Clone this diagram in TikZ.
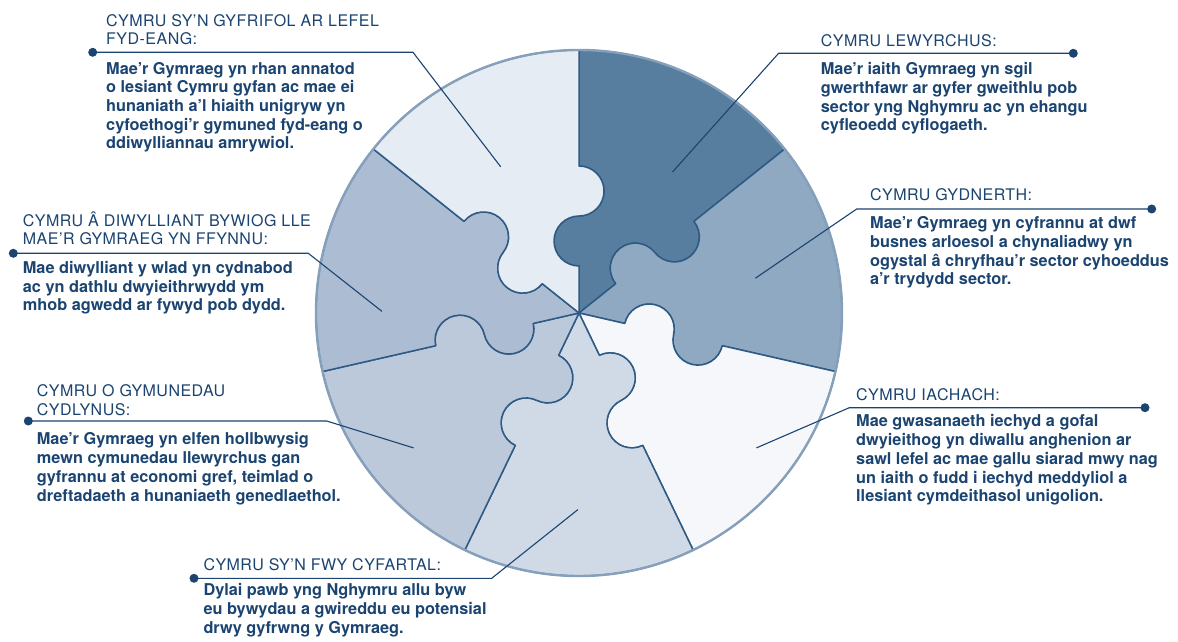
\documentclass[tikz,border=0pt]{standalone}
\usepackage{fontspec}
\setmainfont{TeX Gyre Heros}
\newfontfamily\headfont[LetterSpace=3]{TeX Gyre Heros}
\usepackage{tikz}

\definecolor{navy}{HTML}{1B4471}
\definecolor{edgeblue}{HTML}{2E5A84}
\definecolor{rimblue}{HTML}{86A0BB}
\definecolor{toneA}{HTML}{E6ECF3}
\definecolor{toneB}{HTML}{577E9E}
\definecolor{toneC}{HTML}{8FA9C2}
\definecolor{toneD}{HTML}{ACBDD3}
\definecolor{toneE}{HTML}{F5F7FA}
\definecolor{toneF}{HTML}{D0DAE6}
\definecolor{toneG}{HTML}{BCC9DB}

\tikzset{
  piece/.style={draw=edgeblue,line width=1.5pt,line join=round},
  rim/.style={draw=rimblue,line width=2.4pt},
  leader/.style={draw=navy,line width=1.1pt},
  enddot/.style={circle,fill=navy,inner sep=0pt,minimum size=9pt},
  heading/.style={anchor=base west,align=left,inner sep=0pt,text=navy,
    font=\headfont\fontsize{16}{18.4}\selectfont},
  blurb/.style={anchor=base west,align=left,inner sep=0pt,text=navy,
    font=\bfseries\fontsize{16.3}{18.7}\selectfont}
}

\begin{document}
\begin{tikzpicture}[x=1pt,y=1pt]
    \useasboundingbox (0,0) rectangle (1178,641);
    \fill[white] (0,0) rectangle (1178,641);
    % Puzzle pieces
    \begin{scope}[shift={(579,328)}]
      \foreach \k/\col in {0/toneB,1/toneC,2/toneE,3/toneF,4/toneG,5/toneD,6/toneA} {
        \pgfmathsetmacro\a{90-(\k+1)*360/7}
        \pgfmathsetmacro\b{\a+360/7}
        \pgfmathsetmacro\ao{\a+180}
        \pgfmathsetmacro\aoo{\a+360}
        \pgfmathsetmacro\bm{\b-180}
        \pgfmathsetmacro\bp{\b+180}
        \filldraw[piece,fill=\col] (0,0) -- (\a:47)
          arc[start angle=\ao,end angle=\a,radius=25]
          arc[start angle=\ao,end angle=\aoo,radius=25] -- (\a:263)
          arc[start angle=\a,end angle=\b,radius=263] -- (\b:147)
          arc[start angle=\b,end angle=\bm,radius=25]
          arc[start angle=\b,end angle=\bp,radius=25] -- cycle;
      }
      % Outer ring
      \draw[rim] (0,0) circle[radius=263];
    \end{scope}
    % Gyfrifol (nodes sit on their last baseline)
    \node[enddot] (dotGyfrifol) at (92.7,588.7) {};
    \node[heading] (headGyfrifol) at (106,596) {CYMRU SY’N GYFRIFOL AR LEFEL\\FYD-EANG:};
    \node[blurb] (textGyfrifol) at (106,492) {Mae’r Gymraeg yn rhan annatod\\o lesiant Cymru gyfan ac mae ei\\hunaniath a’l hiaith unigryw yn\\cyfoethogi’r gymuned fyd-eang o\\ddiwylliannau amrywiol.};
    \coordinate (bendGyfrifol) at (413,588.7);
    \coordinate (tipGyfrifol) at (500.7,474.2);
    % Lewyrchus
    \node[enddot] (dotLewyrchus) at (1073.3,587.7) {};
    \node[heading] (headLewyrchus) at (820.7,594.3) {CYMRU LEWYRCHUS:};
    \node[blurb] (textLewyrchus) at (820.7,510) {Mae’r iaith Gymraeg yn sgil\\gwerthfawr ar gyfer gweithlu pob\\sector yng Nghymru ac yn ehangu\\cyfleoedd cyflogaeth.};
    \coordinate (bendLewyrchus) at (778.6,587.7);
    \coordinate (tipLewyrchus) at (672.5,469);
    % Gydnerth
    \node[enddot] (dotGydnerth) at (1151.7,432) {};
    \node[heading] (headGydnerth) at (870,440) {CYMRU GYDNERTH:};
    \node[blurb] (textGydnerth) at (870,356) {Mae’r Gymraeg yn cyfrannu at dwf\\busnes arloesol a chynaliadwy yn\\ogystal â chryfhau’r sector cyhoeddus\\a’r trydydd sector.};
    \coordinate (bendGydnerth) at (856.7,432);
    \coordinate (tipGydnerth) at (755.4,362.8);
    % Diwylliant
    \node[enddot] (dotDiwylliant) at (13.3,387.7) {};
    \node[heading] (headDiwylliant) at (22.7,396) {CYMRU Â DIWYLLIANT BYWIOG LLE\\MAE’R GYMRAEG YN FFYNNU:};
    \node[blurb] (textDiwylliant) at (22.7,330.3) {Mae diwylliant y wlad yn cydnabod\\ac yn dathlu dwyieithrwydd ym\\mhob agwedd ar fywyd pob dydd.};
    \coordinate (bendDiwylliant) at (308.3,387.7);
    \coordinate (tipDiwylliant) at (382,329.6);
    % Cymunedau
    \node[enddot] (dotCymunedau) at (28.3,220) {};
    \node[heading] (headCymunedau) at (36.7,226) {CYMRU O GYMUNEDAU\\CYDLYNUS:};
    \node[blurb] (textCymunedau) at (36.7,140) {Mae’r Gymraeg yn elfen hollbwysig\\mewn cymunedau llewyrchus gan\\gyfrannu at economi gref, teimlad o\\dreftadaeth a hunaniaeth genedlaethol.};
    \coordinate (bendCymunedau) at (326.7,220);
    \coordinate (tipCymunedau) at (413.6,193.1);
    % Iachach
    \node[enddot] (dotIachach) at (1145,233.3) {};
    \node[heading] (headIachach) at (856,240.3) {CYMRU IACHACH:};
    \node[blurb] (textIachach) at (856,139.3) {Mae gwasanaeth iechyd a gofal\\dwyieithog yn diwallu anghenion ar\\sawl lefel ac mae gallu siarad mwy nag\\un iaith o fudd i iechyd meddyliol a\\llesiant cymdeithasol unigolion.};
    \coordinate (bendIachach) at (849.3,233.3);
    \coordinate (tipIachach) at (756.4,193.1);
    % Cyfartal
    \node[enddot] (dotCyfartal) at (194,62.7) {};
    \node[heading] (headCyfartal) at (203.3,71) {CYMRU SY’N FWY CYFARTAL:};
    \node[blurb] (textCyfartal) at (203.3,7.7) {Dylai pawb yng Nghymru allu byw\\eu bywydau a gwireddu eu potensial\\drwy gyfrwng y Gymraeg.};
    \coordinate (bendCyfartal) at (491.7,62.7);
    \coordinate (tipCyfartal) at (577.9,131.4);
    % Leaders
    \foreach \n in {Gyfrifol,Lewyrchus,Gydnerth,Diwylliant,Cymunedau,Iachach,Cyfartal} {
      \draw[leader] (dot\n.center) -- (bend\n) -- (tip\n);
    }
\end{tikzpicture}
\end{document}
